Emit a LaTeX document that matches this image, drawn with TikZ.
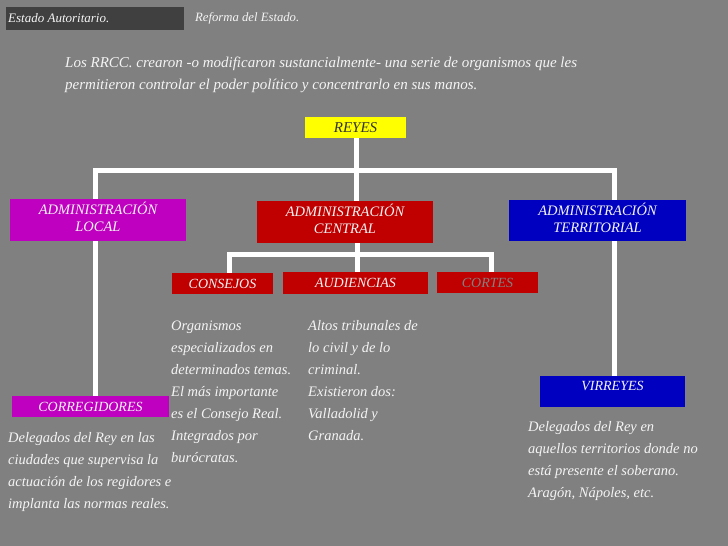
\documentclass[tikz,border=0pt]{standalone}
\usepackage{fontspec}
\setmainfont{Liberation Serif}
\pgfdeclarelayer{background}
\pgfdeclarelayer{lines}
\pgfsetlayers{background,lines,main}
\definecolor{bg}{HTML}{808080}
\definecolor{darkbar}{HTML}{404040}
\definecolor{txt}{HTML}{F4F4F4}
\definecolor{mag}{HTML}{C000C0}
\definecolor{redb}{HTML}{C00000}
\definecolor{blueb}{HTML}{0000C0}
\definecolor{yel}{HTML}{FFFF00}
\begin{document}
\begin{tikzpicture}[x=1pt,y=-1pt,
  boxa/.style={inner sep=0pt, font=\itshape\fontsize{14.5}{17}\selectfont, text=txt, align=center},
  twoline/.style={text depth=6pt},
  boxb/.style={inner sep=0pt, font=\itshape\fontsize{14}{17}\selectfont, text=txt, align=center},
  body/.style={inner sep=0pt, anchor=north west, align=left, text=txt, font=\itshape\fontsize{14.5}{22}\selectfont},
  conn/.style={draw=white, line width=5pt}]
\begin{pgfonlayer}{background}
\fill[bg] (0,0) rectangle (728,546);
\end{pgfonlayer}
\useasboundingbox (0,0) rectangle (728,546);
% top bar
\fill[darkbar] (6,7) rectangle (184,30);
\node[anchor=west, inner sep=0pt, text=txt, font=\itshape\fontsize{13}{16}\selectfont] (t1) at (8,18) {Estado Autoritario.};
\node[anchor=west, inner sep=0pt, text=txt, font=\itshape\fontsize{12.7}{16}\selectfont] (t2) at (195,18) {Reforma del Estado.};
% intro
\node[body, font=\itshape\fontsize{15}{22}\selectfont] (intro) at (65,57) {Los RRCC. crearon -o modificaron sustancialmente- una serie de organismos que les\\permitieron controlar el poder político y concentrarlo en sus manos.};
% boxes
\node[boxa, fill=yel, text=black!80, font=\itshape\fontsize{15}{17}\selectfont, minimum width=101pt, minimum height=21pt] (reyes) at (355.5,127.5) {REYES};
\node[boxa, twoline, fill=mag, minimum width=176pt, minimum height=42pt] (local) at (98,220) {ADMINISTRACIÓN\\LOCAL};
\node[boxa, twoline, fill=redb, minimum width=176pt, minimum height=42pt] (central) at (345,222) {ADMINISTRACIÓN\\CENTRAL};
\node[boxa, twoline, fill=blueb, minimum width=177pt, minimum height=41pt] (territorial) at (597.5,220.5) {ADMINISTRACIÓN\\TERRITORIAL};
\node[boxb, fill=redb, minimum width=101pt, minimum height=21pt] (consejos) at (222.5,283.5) {CONSEJOS};
\node[boxb, fill=redb, minimum width=145pt, minimum height=22pt] (audiencias) at (355.5,283) {AUDIENCIAS};
\node[boxb, fill=redb, text=bg, minimum width=101pt, minimum height=21pt] (cortes) at (487.5,282.5) {CORTES};
\node[boxb, fill=mag, minimum width=157pt, minimum height=21pt] (corr) at (90.5,406.5) {CORREGIDORES};
\node[boxb, fill=blueb, minimum width=145pt, minimum height=31pt, text height=9pt, text depth=11pt] (virr) at (612.5,391.5) {VIRREYES};
% junctions
\coordinate (jL) at (95,170);
\coordinate (jR) at (614,170);
\coordinate (jM) at (356,170);
\coordinate (kL) at (229,254);
\coordinate (kR) at (491,254);
\coordinate (kM) at (357,254);
\begin{pgfonlayer}{lines}
\draw[conn] (jL |- corr.north) -- (jL) -- (jR) -- (jR |- virr.north);
\draw[conn] (reyes.south -| jM) -- (jM) -- (jM |- central.north);
\draw[conn] (kM |- central.south) -- (kM);
\draw[conn] (kL |- consejos.north) -- (kL) -- (kR) -- (kR |- cortes.north);
\draw[conn] (kM) -- (kM |- audiencias.north);
\end{pgfonlayer}
% text blocks
\node[body] (tcons) at (171,321) {Organismos\\especializados en\\determinados temas.\\El más importante\\es el Consejo Real.\\Integrados por\\burócratas.};
\node[body] (taud) at (308,320) {Altos tribunales de\\lo civil y de lo\\criminal.\\Existieron dos:\\Valladolid y\\Granada.};
\node[body] (tcorr) at (8,432) {Delegados del Rey en las\\ciudades que supervisa la\\actuación de los regidores e\\implanta las normas reales.};
\node[body] (tvirr) at (528,421) {Delegados del Rey en\\aquellos territorios donde no\\está presente el soberano.\\Aragón, Nápoles, etc.};
\end{tikzpicture}
\end{document}
